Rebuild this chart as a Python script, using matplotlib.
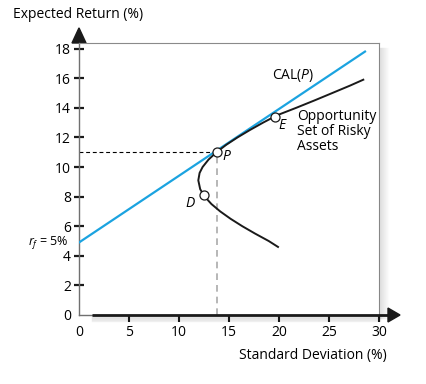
import matplotlib.pyplot as plt
from matplotlib.patches import Polygon
from matplotlib.lines import Line2D

plt.rcParams['font.family'] = ['Open Sans', 'DejaVu Sans']
plt.rcParams['mathtext.fontset'] = 'custom'
plt.rcParams['mathtext.rm'] = 'Open Sans'
plt.rcParams['mathtext.it'] = 'Open Sans:italic'
plt.rcParams['font.size'] = 10

# opportunity set of risky assets
frontier_ret = [4.6, 5.0, 5.5, 6.0, 6.5, 7.0, 7.5, 8.0, 8.5, 9.1, 9.6, 10.0,
                10.5, 11.0, 11.5, 12.0, 12.5, 13.0, 13.5, 14.0, 14.5, 15.0,
                15.5, 15.9]
frontier_sd = [19.9, 18.97, 17.61, 16.33, 15.16, 14.12, 13.24, 12.57, 12.12,
               11.93, 12.06, 12.36, 12.95, 13.75, 14.72, 15.85, 17.09, 18.41,
               19.82, 21.72, 23.55, 25.33, 27.10, 28.43]

# capital allocation line
cal_sd = [0, 28.6]
cal_ret = [4.9, 17.8]

# marked portfolios
pt_names = ['D', 'P', 'E']
pt_sd = [12.48, 13.75, 19.55]
pt_ret = [8.1, 11.0, 13.4]

xticks = [0, 5, 10, 15, 20, 25, 30]
yticks = [0, 2, 4, 6, 8, 10, 12, 14, 16, 18]

fig = plt.figure(figsize=(4.26, 3.84), dpi=100)
ax = fig.add_axes([79 / 426, 69 / 384, 300 / 426, 272 / 384])
ax.set_xlim(0, 30)
ax.set_ylim(0, 18.38)

# shadow of the box
for i in range(1, 10):
    a = 0.10 * (1 - i / 10)
    fig.add_artist(Line2D([379 + i, 379 + i], [384 - 48, 384 - 318],
                          transform=None, color='k', alpha=a, lw=1))
    if i < 6:
        fig.add_artist(Line2D([92, 380], [384 - 316 - i, 384 - 316 - i],
                              transform=None, color='k', alpha=a, lw=1))

ax.plot(cal_sd, cal_ret, color='#1ba3e0', lw=1.6, zorder=3)
ax.plot(frontier_sd, frontier_ret, color='#1a1a1a', lw=1.4, zorder=3)

# dashed guides to P
ax.plot([0, pt_sd[1]], [pt_ret[1], pt_ret[1]], color='k', lw=0.8,
        dashes=(3.5, 2.5), zorder=2)
ax.plot([pt_sd[1], pt_sd[1]], [0, pt_ret[1]], color='#aaaaaa', lw=1.2,
        dashes=(4, 3), zorder=2)

ax.plot(pt_sd, pt_ret, 'o', ms=6.5, mfc='white', mec='#1a1a1a', mew=0.9,
        zorder=4)

ax.text(pt_sd[1] + 0.6, pt_ret[1] - 0.3, 'P', style='italic', ha='left',
        va='center')
ax.text(pt_sd[0] - 0.9, pt_ret[0] - 0.55, 'D', style='italic', ha='right',
        va='center')
ax.text(pt_sd[2] + 0.35, pt_ret[2] - 0.6, 'E', style='italic', ha='left',
        va='center')
ax.text(19.3, 16.2, 'CAL($P$)', ha='left', va='center')
ax.text(21.8, 13.95, 'Opportunity\nSet of Risky\nAssets', ha='left',
        va='top', linespacing=1.0)
ax.text(-1.0, 4.88, '$r_f$ = 5%', ha='right', va='center', fontsize=9,
        clip_on=False)

# spines
for s in ['top', 'right']:
    ax.spines[s].set_color('#8a8a8a')
    ax.spines[s].set_linewidth(0.8)
ax.spines['left'].set_color('#707070')
ax.spines['left'].set_linewidth(1.0)
ax.spines['bottom'].set_visible(False)
ax.plot([0, 1.3], [0, 0], color='#707070', lw=1.0, clip_on=False, zorder=5)
ax.plot([1.3, 31.0], [0, 0], color='#1a1a1a', lw=2.0, clip_on=False,
        zorder=5, solid_capstyle='butt')

# arrow heads
ax.add_patch(Polygon([(-0.7, 18.38), (0.7, 18.38), (0, 19.4)], closed=True,
                     color='#1a1a1a', clip_on=False))
ax.add_patch(Polygon([(30.9, -0.47), (30.9, 0.47), (32.1, 0)], closed=True,
                     color='#1a1a1a', clip_on=False))

ax.set_xticks(xticks)
ax.set_yticks(yticks)
ax.tick_params(axis='y', direction='inout', length=7.5, width=1.6,
               color='#1a1a1a', pad=2.0, labelsize=10)
ax.tick_params(axis='x', direction='out', length=5, width=1.5,
               color='#1a1a1a', pad=2.5, labelsize=10)
# no tick marks at the origin
ax.xaxis.get_major_ticks()[0].tick1line.set_visible(False)
ax.yaxis.get_major_ticks()[0].tick1line.set_visible(False)

fig.text(13 / 426, 1 - 15 / 384, 'Expected Return (%)', ha='left',
         va='center', fontsize=10)
fig.text(387 / 426, 1 - 355 / 384, 'Standard Deviation (%)', ha='right',
         va='center', fontsize=10)

plt.savefig('out.png', dpi=100)
